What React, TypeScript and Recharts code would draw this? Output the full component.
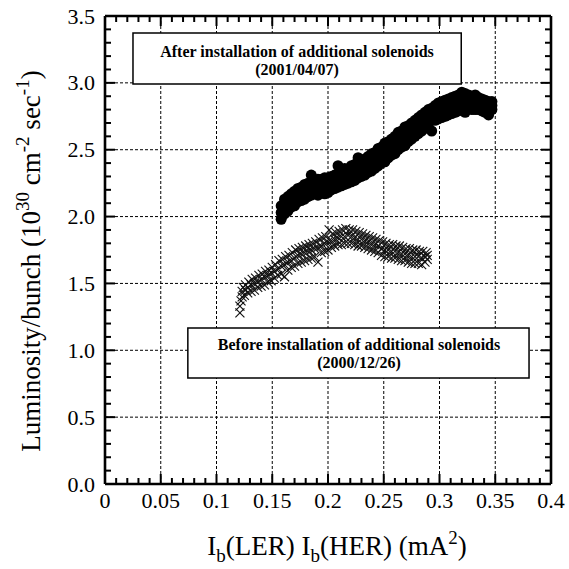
import React from 'react';
import { ScatterChart, Scatter, XAxis, YAxis, CartesianGrid, ReferenceArea } from 'recharts';

const FONT = '"Liberation Serif", "Times New Roman", Times, serif';

const xMajorTicks = [0, 0.05, 0.1, 0.15, 0.2, 0.25, 0.3, 0.35, 0.4];
const xTickLabels = ['0', '0.05', '0.1', '0.15', '0.2', '0.25', '0.3', '0.35', '0.4'];
const yMajorTicks = [0, 0.5, 1, 1.5, 2, 2.5, 3, 3.5];
const yTickLabels = ['0.0', '0.5', '1.0', '1.5', '2.0', '2.5', '3.0', '3.5'];
const xMinorTicks = Array.from({ length: 41 }, (_, i) => i / 100);
const yMinorTicks = Array.from({ length: 36 }, (_, i) => i / 10);
const xGridValues = [0.05, 0.1, 0.15, 0.2, 0.25, 0.3, 0.35];
const yGridValues = [0.5, 1, 1.5, 2, 2.5, 3];

// After installation of additional solenoids (2001/04/07)
const afterPoints: [number, number][] = [
  [0.158, 1.98], [0.158, 2.03], [0.158, 2.08],
  [0.161, 2.02], [0.161, 2.08], [0.161, 2.13],
  [0.164, 2.04], [0.164, 2.10], [0.164, 2.15],
  [0.167, 2.07], [0.167, 2.11], [0.167, 2.17],
  [0.170, 2.08], [0.170, 2.15], [0.170, 2.19],
  [0.173, 2.11], [0.173, 2.16], [0.173, 2.21],
  [0.176, 2.12], [0.176, 2.18], [0.176, 2.22],
  [0.179, 2.13], [0.179, 2.17], [0.179, 2.24],
  [0.182, 2.15], [0.182, 2.21], [0.182, 2.25],
  [0.185, 2.16], [0.185, 2.20], [0.185, 2.31],
  [0.188, 2.17], [0.188, 2.23], [0.188, 2.27],
  [0.191, 2.16], [0.191, 2.22], [0.191, 2.28],
  [0.194, 2.18], [0.194, 2.24], [0.194, 2.28],
  [0.197, 2.17], [0.197, 2.23], [0.197, 2.29],
  [0.200, 2.18], [0.200, 2.25], [0.200, 2.29],
  [0.203, 2.20], [0.203, 2.24], [0.203, 2.30],
  [0.206, 2.21], [0.206, 2.27], [0.206, 2.31],
  [0.209, 2.22], [0.209, 2.28], [0.209, 2.38],
  [0.212, 2.23], [0.212, 2.29], [0.212, 2.33],
  [0.215, 2.24], [0.215, 2.28], [0.215, 2.36],
  [0.218, 2.25], [0.218, 2.31], [0.218, 2.35],
  [0.221, 2.26], [0.221, 2.30], [0.221, 2.38],
  [0.224, 2.27], [0.224, 2.34], [0.224, 2.39],
  [0.227, 2.29], [0.227, 2.33], [0.227, 2.44],
  [0.230, 2.30], [0.230, 2.36], [0.230, 2.41],
  [0.233, 2.31], [0.233, 2.37], [0.233, 2.43],
  [0.236, 2.33], [0.236, 2.40], [0.236, 2.45],
  [0.239, 2.34], [0.239, 2.39], [0.239, 2.47],
  [0.242, 2.36], [0.242, 2.43], [0.242, 2.48],
  [0.245, 2.38], [0.245, 2.44], [0.245, 2.51],
  [0.248, 2.40], [0.248, 2.47], [0.248, 2.52],
  [0.251, 2.41], [0.251, 2.48], [0.251, 2.55],
  [0.254, 2.44], [0.254, 2.50], [0.254, 2.56],
  [0.257, 2.46], [0.257, 2.52], [0.257, 2.58],
  [0.260, 2.47], [0.260, 2.55], [0.260, 2.60],
  [0.263, 2.50], [0.263, 2.56], [0.263, 2.63],
  [0.266, 2.52], [0.266, 2.58], [0.266, 2.64],
  [0.269, 2.53], [0.269, 2.60], [0.269, 2.67],
  [0.272, 2.56], [0.272, 2.62], [0.272, 2.68],
  [0.275, 2.58], [0.275, 2.65], [0.275, 2.70],
  [0.278, 2.60], [0.278, 2.66], [0.278, 2.72],
  [0.281, 2.62], [0.281, 2.68], [0.281, 2.74],
  [0.284, 2.64], [0.284, 2.71], [0.284, 2.76],
  [0.287, 2.66], [0.287, 2.72], [0.287, 2.78],
  [0.290, 2.67], [0.290, 2.73], [0.290, 2.80],
  [0.293, 2.64], [0.293, 2.75], [0.293, 2.81],
  [0.296, 2.72], [0.296, 2.78], [0.296, 2.83],
  [0.299, 2.73], [0.299, 2.79], [0.299, 2.85],
  [0.302, 2.74], [0.302, 2.80], [0.302, 2.86],
  [0.305, 2.75], [0.305, 2.81], [0.305, 2.87],
  [0.308, 2.76], [0.308, 2.82], [0.308, 2.88],
  [0.311, 2.77], [0.311, 2.83], [0.311, 2.89],
  [0.314, 2.78], [0.314, 2.84], [0.314, 2.90],
  [0.317, 2.79], [0.317, 2.86], [0.317, 2.91],
  [0.320, 2.80], [0.320, 2.86], [0.320, 2.93],
  [0.323, 2.78], [0.323, 2.87], [0.323, 2.92],
  [0.326, 2.81], [0.326, 2.86], [0.326, 2.91],
  [0.329, 2.80], [0.329, 2.86], [0.329, 2.90],
  [0.332, 2.80], [0.332, 2.85], [0.332, 2.91],
  [0.335, 2.80], [0.335, 2.85], [0.335, 2.89],
  [0.338, 2.79], [0.338, 2.84], [0.338, 2.88],
  [0.341, 2.78], [0.341, 2.83], [0.341, 2.87],
  [0.344, 2.76], [0.344, 2.82], [0.344, 2.86],
  [0.347, 2.80], [0.347, 2.83], [0.347, 2.86],
];

// Before installation of additional solenoids (2000/12/26)
const beforePoints: [number, number][] = [
  [0.121, 1.28], [0.121, 1.33], [0.122, 1.37],
  [0.123, 1.40], [0.123, 1.44], [0.124, 1.47],
  [0.125, 1.41], [0.126, 1.45], [0.126, 1.49],
  [0.128, 1.43], [0.128, 1.47], [0.129, 1.51],
  [0.131, 1.44], [0.131, 1.49], [0.132, 1.53],
  [0.134, 1.45], [0.134, 1.50], [0.135, 1.54],
  [0.137, 1.47], [0.137, 1.51], [0.138, 1.56],
  [0.140, 1.48], [0.140, 1.53], [0.141, 1.57],
  [0.143, 1.49], [0.143, 1.55], [0.144, 1.59],
  [0.146, 1.51], [0.146, 1.56], [0.147, 1.60],
  [0.149, 1.52], [0.149, 1.58], [0.150, 1.62],
  [0.152, 1.54], [0.152, 1.59], [0.153, 1.64],
  [0.155, 1.56], [0.155, 1.61], [0.156, 1.67],
  [0.158, 1.57], [0.158, 1.63], [0.159, 1.68],
  [0.161, 1.55], [0.161, 1.64], [0.162, 1.70],
  [0.164, 1.60], [0.164, 1.66], [0.165, 1.71],
  [0.167, 1.62], [0.167, 1.67], [0.168, 1.73],
  [0.170, 1.63], [0.170, 1.69], [0.171, 1.75],
  [0.173, 1.65], [0.173, 1.71], [0.174, 1.76],
  [0.176, 1.66], [0.176, 1.72], [0.177, 1.77],
  [0.179, 1.67], [0.179, 1.73], [0.180, 1.78],
  [0.182, 1.68], [0.182, 1.74], [0.183, 1.79],
  [0.185, 1.69], [0.185, 1.75], [0.186, 1.80],
  [0.188, 1.70], [0.188, 1.76], [0.189, 1.81],
  [0.191, 1.66], [0.191, 1.77], [0.192, 1.83],
  [0.194, 1.73], [0.194, 1.78], [0.195, 1.84],
  [0.197, 1.74], [0.197, 1.80], [0.198, 1.85],
  [0.200, 1.75], [0.200, 1.81], [0.201, 1.90],
  [0.203, 1.77], [0.203, 1.82], [0.204, 1.87],
  [0.206, 1.78], [0.206, 1.83], [0.207, 1.88],
  [0.209, 1.79], [0.209, 1.84], [0.210, 1.89],
  [0.212, 1.79], [0.212, 1.85], [0.213, 1.90],
  [0.215, 1.80], [0.215, 1.85], [0.216, 1.91],
  [0.218, 1.80], [0.218, 1.86], [0.219, 1.90],
  [0.221, 1.80], [0.221, 1.85], [0.222, 1.90],
  [0.224, 1.79], [0.224, 1.84], [0.225, 1.89],
  [0.227, 1.78], [0.227, 1.83], [0.228, 1.88],
  [0.230, 1.78], [0.230, 1.83], [0.231, 1.87],
  [0.233, 1.77], [0.233, 1.82], [0.234, 1.86],
  [0.236, 1.76], [0.236, 1.81], [0.237, 1.85],
  [0.239, 1.75], [0.239, 1.80], [0.240, 1.84],
  [0.242, 1.74], [0.242, 1.79], [0.243, 1.83],
  [0.245, 1.73], [0.245, 1.78], [0.246, 1.82],
  [0.248, 1.71], [0.248, 1.76], [0.249, 1.81],
  [0.251, 1.70], [0.251, 1.75], [0.252, 1.80],
  [0.254, 1.70], [0.254, 1.75], [0.255, 1.79],
  [0.257, 1.69], [0.257, 1.74], [0.258, 1.79],
  [0.260, 1.69], [0.260, 1.74], [0.261, 1.78],
  [0.263, 1.68], [0.263, 1.73], [0.264, 1.78],
  [0.266, 1.67], [0.266, 1.72], [0.267, 1.77],
  [0.269, 1.67], [0.269, 1.72], [0.270, 1.76],
  [0.272, 1.66], [0.272, 1.71], [0.273, 1.76],
  [0.275, 1.65], [0.275, 1.70], [0.276, 1.75],
  [0.278, 1.65], [0.278, 1.70], [0.279, 1.75],
  [0.281, 1.65], [0.281, 1.70], [0.282, 1.74],
  [0.284, 1.64], [0.284, 1.69], [0.285, 1.74],
  [0.287, 1.66], [0.287, 1.70], [0.288, 1.73],
  [0.289, 1.68], [0.289, 1.71],
];

// Annotation boxes (data units)
const afterBox = { x1: 0.0251, x2: 0.3195, y1: 2.9915, y2: 3.373 };
const beforeBox = { x1: 0.0743, x2: 0.3803, y1: 0.7928, y2: 1.1667 };

const afterData = afterPoints.map(([x, y]) => ({ x, y }));
const beforeData = beforePoints.map(([x, y]) => ({ x, y }));

const near = (a: number, b: number) => Math.abs(a - b) < 1e-9;
const INK = '#000';

const BottomTick = (props: any) => {
  const { x, y, payload } = props;
  const idx = xMajorTicks.findIndex((m) => near(m, payload.value));
  const len = idx >= 0 ? 10 : 6;
  return (
    <g>
      <path d={`M${x},${y}L${x},${y - len}`} stroke={INK} strokeWidth={2} fill="none" />
      {idx >= 0 && (
        <text x={x} y={y + 24} textAnchor="middle" fontFamily={FONT} fontSize={22} fill={INK}>
          {xTickLabels[idx]}
        </text>
      )}
    </g>
  );
};

const TopTick = (props: any) => {
  const { x, y, payload } = props;
  const idx = xMajorTicks.findIndex((m) => near(m, payload.value));
  const len = idx >= 0 ? 10 : 6;
  return <path d={`M${x},${y}L${x},${y + len}`} stroke={INK} strokeWidth={2} fill="none" />;
};

const LeftTick = (props: any) => {
  const { x, y, payload } = props;
  const idx = yMajorTicks.findIndex((m) => near(m, payload.value));
  const len = idx >= 0 ? 10 : 6;
  return (
    <g>
      <path d={`M${x},${y}L${x + len},${y}`} stroke={INK} strokeWidth={2} fill="none" />
      {idx >= 0 && (
        <text x={x - 10} y={y + 7.5} textAnchor="end" fontFamily={FONT} fontSize={22} fill={INK}>
          {yTickLabels[idx]}
        </text>
      )}
    </g>
  );
};

const RightTick = (props: any) => {
  const { x, y, payload } = props;
  const idx = yMajorTicks.findIndex((m) => near(m, payload.value));
  const len = idx >= 0 ? 10 : 6;
  return <path d={`M${x},${y}L${x - len},${y}`} stroke={INK} strokeWidth={2} fill="none" />;
};

const XTitle = () => (
  <text x={337} y={555} textAnchor="middle" fontFamily={FONT} fontSize={27} fill={INK}>
    I<tspan dy={7} fontSize={19}>b</tspan>
    <tspan dy={-7}>(LER) I</tspan>
    <tspan dy={7} fontSize={19}>b</tspan>
    <tspan dy={-7}>(HER) (mA</tspan>
    <tspan dy={-11} fontSize={19}>2</tspan>
    <tspan dy={11}>)</tspan>
  </text>
);

const YTitle = () => (
  <text
    x={40}
    y={261}
    textAnchor="middle"
    fontFamily={FONT}
    fontSize={27}
    fill={INK}
    transform="rotate(-90 40 261)"
  >
    Luminosity/bunch (10
    <tspan dy={-11} fontSize={19}>30</tspan>
    <tspan dy={11}> cm</tspan>
    <tspan dy={-11} fontSize={19}>-2</tspan>
    <tspan dy={11}> sec</tspan>
    <tspan dy={-11} fontSize={19}>-1</tspan>
    <tspan dy={11}>)</tspan>
  </text>
);

const AfterBoxText = () => (
  <g fontFamily={FONT} fontSize={16} fontWeight="bold" fill={INK}>
    <text x={297} y={57} textAnchor="middle">After installation of additional solenoids</text>
    <text x={297} y={75} textAnchor="middle">(2001/04/07)</text>
  </g>
);

const BeforeBoxText = () => (
  <g fontFamily={FONT} fontSize={16} fontWeight="bold" fill={INK}>
    <text x={359} y={350} textAnchor="middle">Before installation of additional solenoids</text>
    <text x={359} y={368} textAnchor="middle">(2000/12/26)</text>
  </g>
);

const CircleShape = (p: any) => <circle cx={p.cx} cy={p.cy} r={5.5} fill="#000" />;
const CrossShape = (p: any) => {
  const s = 4.5;
  return (
    <g stroke="#111" strokeWidth={1.1}>
      <line x1={p.cx - s} y1={p.cy - s} x2={p.cx + s} y2={p.cy + s} />
      <line x1={p.cx - s} y1={p.cy + s} x2={p.cx + s} y2={p.cy - s} />
    </g>
  );
};
const NoShape = () => <g />;

const frame = { stroke: INK, strokeWidth: 2.6 };

export default function App() {
  return (
    <div style={{ position: 'absolute', left: 0, top: 0, width: 569, height: 569, background: '#fff' }}>
      <ScatterChart width={569} height={569} margin={{ top: 0, right: 17, bottom: 0, left: 0 }}>
        <CartesianGrid
          stroke="#000"
          strokeWidth={1}
          strokeDasharray="3 2"
          horizontalValues={yGridValues}
          verticalValues={xGridValues}
        />
        <XAxis
          dataKey="x"
          type="number"
          domain={[0, 0.4]}
          ticks={xMinorTicks}
          interval={0}
          height={85}
          stroke={INK}
          tickSize={0}
          tickMargin={0}
          tickLine={false}
          axisLine={frame}
          tick={BottomTick}
          label={{ content: XTitle }}
        />
        <XAxis
          xAxisId="top"
          orientation="top"
          dataKey="x"
          type="number"
          domain={[0, 0.4]}
          ticks={xMinorTicks}
          interval={0}
          height={16}
          stroke={INK}
          tickSize={0}
          tickMargin={0}
          tickLine={false}
          axisLine={frame}
          tick={TopTick}
        />
        <YAxis
          dataKey="y"
          type="number"
          domain={[0, 3.5]}
          ticks={yMinorTicks}
          interval={0}
          width={105}
          stroke={INK}
          tickSize={0}
          tickMargin={0}
          tickLine={false}
          axisLine={frame}
          tick={LeftTick}
          label={{ content: YTitle }}
        />
        <YAxis
          yAxisId="right"
          orientation="right"
          dataKey="y"
          type="number"
          domain={[0, 3.5]}
          ticks={yMinorTicks}
          interval={0}
          width={1}
          stroke={INK}
          tickSize={0}
          tickMargin={0}
          tickLine={false}
          axisLine={frame}
          tick={RightTick}
        />
        <ReferenceArea
          x1={afterBox.x1}
          x2={afterBox.x2}
          y1={afterBox.y1}
          y2={afterBox.y2}
          fill="#fff"
          fillOpacity={1}
          stroke="#000"
          strokeWidth={1.5}
          label={{ content: AfterBoxText }}
        />
        <ReferenceArea
          x1={beforeBox.x1}
          x2={beforeBox.x2}
          y1={beforeBox.y1}
          y2={beforeBox.y2}
          fill="#fff"
          fillOpacity={1}
          stroke="#000"
          strokeWidth={1.5}
          label={{ content: BeforeBoxText }}
        />
        <Scatter xAxisId="top" yAxisId="right" data={afterData} shape={NoShape} isAnimationActive={false} />
        <Scatter data={beforeData} shape={CrossShape} isAnimationActive={false} />
        <Scatter data={afterData} shape={CircleShape} isAnimationActive={false} />
      </ScatterChart>
    </div>
  );
}
